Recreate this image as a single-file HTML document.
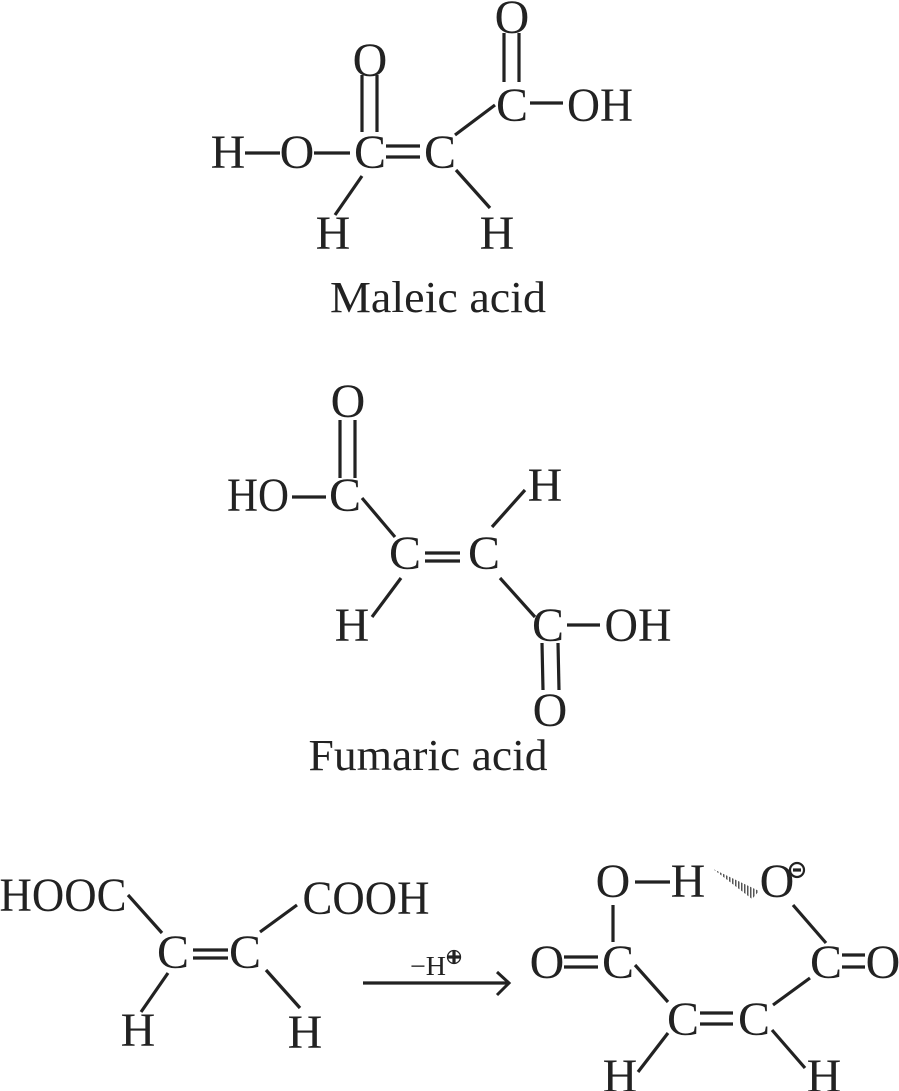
<!DOCTYPE html>
<html><head><meta charset="utf-8"><style>
html,body{margin:0;padding:0;background:#fff;}
svg{display:block;}
text{font-family:"Liberation Serif","Times New Roman",serif;fill:#222;text-anchor:middle;}
line{stroke:#222;stroke-width:3.2;}
</style></head><body>
<svg width="899" height="1091" viewBox="0 0 899 1091" xmlns="http://www.w3.org/2000/svg">
<g style="font-size:48px">
<!-- Maleic acid -->
<text x="228" y="168">H</text>
<text x="297" y="168">O</text>
<text x="370" y="168">C</text>
<text x="440" y="168">C</text>
<text x="370" y="76">O</text>
<text x="512" y="121">C</text>
<text x="512" y="33">O</text>
<text x="600" y="121" textLength="66" lengthAdjust="spacingAndGlyphs">OH</text>
<text x="333" y="249">H</text>
<text x="497" y="249">H</text>

<!-- Fumaric -->
<text x="348" y="417">O</text>
<text x="258" y="511" textLength="62" lengthAdjust="spacingAndGlyphs">HO</text>
<text x="345" y="511">C</text>
<text x="405" y="569">C</text>
<text x="484" y="569">C</text>
<text x="545" y="501">H</text>
<text x="352" y="641">H</text>
<text x="548" y="641">C</text>
<text x="638" y="641" textLength="67" lengthAdjust="spacingAndGlyphs">OH</text>
<text x="550" y="726">O</text>

<!-- Bottom left -->
<text x="63" y="911" textLength="127" lengthAdjust="spacingAndGlyphs">HOOC</text>
<text x="173" y="968">C</text>
<text x="245" y="968">C</text>
<text x="366" y="914" textLength="127" lengthAdjust="spacingAndGlyphs">COOH</text>
<text x="138" y="1046">H</text>
<text x="305" y="1048">H</text>

<!-- Bottom right -->
<text x="613" y="897">O</text>
<text x="688" y="897">H</text>
<text x="777" y="897">O</text>
<text x="547" y="978">O</text>
<text x="618" y="978">C</text>
<text x="683" y="1035">C</text>
<text x="754" y="1035">C</text>
<text x="826" y="978">C</text>
<text x="883" y="978">O</text>
<text x="620" y="1092">H</text>
<text x="824" y="1092">H</text>
</g>

<line x1="245" y1="153" x2="280" y2="153"/>
<line x1="314" y1="153" x2="350" y2="153"/>
<line x1="386" y1="146" x2="420" y2="146"/>
<line x1="386" y1="157" x2="420" y2="157"/>
<line x1="362" y1="75" x2="362" y2="132"/>
<line x1="377" y1="75" x2="377" y2="132"/>
<line x1="504" y1="33" x2="504" y2="82"/>
<line x1="519" y1="33" x2="519" y2="82"/>
<line x1="530" y1="103" x2="563" y2="103"/>
<line x1="455" y1="135" x2="495" y2="105"/>
<line x1="362" y1="176" x2="335" y2="215"/>
<line x1="456" y1="170" x2="490" y2="208"/>
<text x="438" y="312" style="font-size:44px" textLength="216" lengthAdjust="spacingAndGlyphs">Maleic acid</text>

<line x1="340" y1="420" x2="340" y2="478"/>
<line x1="355" y1="420" x2="355" y2="478"/>
<line x1="292" y1="497" x2="326" y2="497"/>
<line x1="362" y1="498" x2="395" y2="537"/>
<line x1="425" y1="553" x2="460" y2="553"/>
<line x1="425" y1="561" x2="460" y2="561"/>
<line x1="492" y1="527" x2="525" y2="490"/>
<line x1="401" y1="578" x2="372" y2="617"/>
<line x1="500" y1="578" x2="535" y2="617"/>
<line x1="567" y1="625" x2="600" y2="625"/>
<line x1="542" y1="643" x2="543" y2="690"/>
<line x1="558" y1="643" x2="559" y2="690"/>
<text x="428" y="770" style="font-size:44px" textLength="239" lengthAdjust="spacingAndGlyphs">Fumaric acid</text>

<line x1="128" y1="895" x2="162" y2="933"/>
<line x1="193" y1="950" x2="228" y2="950"/>
<line x1="193" y1="958" x2="228" y2="958"/>
<line x1="260" y1="932" x2="297" y2="905"/>
<line x1="168" y1="973" x2="141" y2="1012"/>
<line x1="266" y1="970" x2="300" y2="1008"/>

<!-- Arrow -->
<line x1="363" y1="983" x2="508" y2="983" stroke-width="3"/>
<polyline points="497,972 509,983 497,995" fill="none" stroke="#222" stroke-width="3"/>
<text x="428" y="975" style="font-size:27px" textLength="36" lengthAdjust="spacingAndGlyphs">−H</text>
<circle cx="454" cy="957" r="6.5" fill="none" stroke="#222" stroke-width="1.3"/>
<line x1="447.5" y1="957" x2="460.5" y2="957" stroke-width="1.3"/>
<line x1="454" y1="950.5" x2="454" y2="963.5" stroke-width="1.3"/>

<!-- Bottom right bonds -->
<line x1="635" y1="882" x2="670" y2="882"/>
<defs><pattern id="hatch" width="3" height="3" patternUnits="userSpaceOnUse"><rect width="1.5" height="3" fill="#555"/></pattern></defs>
<polygon points="713,869 759,891 752,899" fill="url(#hatch)"/>
<circle cx="797" cy="870" r="7" fill="#fff" stroke="#222" stroke-width="2.2"/>
<line x1="793" y1="870" x2="801" y2="870" stroke-width="3"/>
<line x1="613" y1="905" x2="613" y2="942"/>
<line x1="564" y1="957" x2="598" y2="957"/>
<line x1="564" y1="967" x2="598" y2="967"/>
<line x1="635" y1="965" x2="668" y2="1002"/>
<line x1="700" y1="1013" x2="733" y2="1013"/>
<line x1="700" y1="1024" x2="733" y2="1024"/>
<line x1="773" y1="1005" x2="810" y2="978"/>
<line x1="793" y1="905" x2="826" y2="943"/>
<line x1="842" y1="955" x2="865" y2="955"/>
<line x1="842" y1="967" x2="865" y2="967"/>
<line x1="668" y1="1033" x2="638" y2="1072"/>
<line x1="772" y1="1030" x2="805" y2="1068"/>
</svg>
</body></html>
